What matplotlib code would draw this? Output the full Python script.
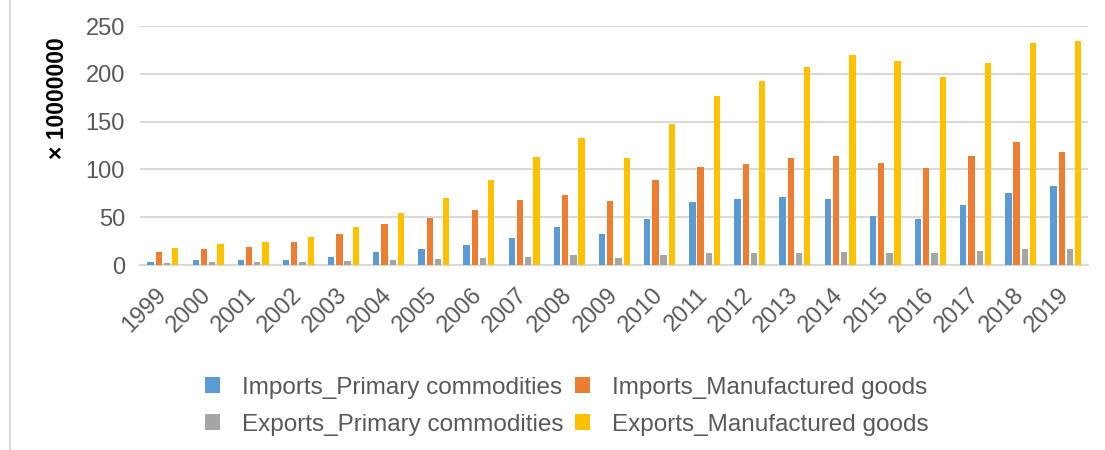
import matplotlib.pyplot as plt
import matplotlib.lines as mlines
import numpy as np

plt.rcParams['font.family'] = ['Liberation Sans', 'DejaVu Sans']

years = [str(y) for y in range(1999, 2020)]

imports_primary = [2.8, 5.2, 5.2, 5.6, 8.4, 13.2, 16.7, 20.9, 27.9, 39.7, 32.7,
                   48.7, 65.8, 68.9, 71.0, 69.6, 51.2, 48.0, 62.7, 75.9, 82.5]
imports_manuf = [13.2, 17.0, 18.8, 23.7, 32.7, 42.8, 49.4, 57.5, 67.9, 73.1, 67.2,
                 88.8, 102.7, 105.2, 112.5, 114.2, 106.5, 102.0, 114.2, 129.2, 118.4]
exports_primary = [2.0, 2.8, 2.8, 3.1, 4.2, 5.2, 6.3, 7.7, 8.4, 10.1, 7.7,
                   10.1, 12.2, 12.2, 12.9, 13.9, 12.5, 12.5, 14.3, 16.4, 16.4]
exports_manuf = [17.4, 22.0, 23.7, 29.2, 39.7, 54.3, 70.0, 89.5, 113.5, 133.0, 112.0,
                 147.3, 176.5, 192.2, 207.2, 219.7, 214.0, 196.4, 211.4, 231.9, 234.0]

series = [
    ('Imports_Primary commodities', imports_primary, '#5B9BD5'),
    ('Imports_Manufactured goods', imports_manuf, '#ED7D31'),
    ('Exports_Primary commodities', exports_primary, '#A5A5A5'),
    ('Exports_Manufactured goods', exports_manuf, '#FFC000'),
]

fig = plt.figure(figsize=(11.05, 4.5), dpi=100)
ax = fig.add_axes([0.127, 0.411, 0.858, 0.531])

x = np.arange(len(years))
step = 0.182
width = 0.14
for i, (name, vals, color) in enumerate(series):
    ax.bar(x + (i - 1.5) * step, vals, width, color=color, label=name, zorder=3)

ax.set_xlim(-0.5, len(years) - 0.5)
ax.set_ylim(0, 250)
ax.set_yticks(range(0, 251, 50))
ax.yaxis.grid(True, color='#D9D9D9', linewidth=1.5, zorder=0)
for s in ['top', 'right', 'left']:
    ax.spines[s].set_visible(False)
ax.spines['bottom'].set_color('#D9D9D9')
ax.spines['bottom'].set_linewidth(1.5)
ax.tick_params(axis='both', length=0, labelsize=17, labelcolor='#595959')
ax.tick_params(axis='y', pad=11)
ax.tick_params(axis='x', pad=19)
ax.set_xticks(x)
ax.set_xticklabels(years, rotation=45, ha='right', va='center', rotation_mode='anchor')
ax.set_ylabel('× 10000000', fontsize=16.5, fontweight='bold')
ax.yaxis.set_label_coords(-0.075, 0.70)

# legend filled row by row: imports on top, exports below
handles, labels = ax.get_legend_handles_labels()
order = [0, 2, 1, 3]
fig.legend([handles[k] for k in order], [labels[k] for k in order],
           loc='center', bbox_to_anchor=(0.513, 0.097), ncol=2,
           frameon=False, fontsize=17.5, labelcolor='#595959', handlelength=0.62,
           handleheight=0.62, columnspacing=0.5, handletextpad=0.9, labelspacing=0.62)

fig.add_artist(mlines.Line2D([0.009, 0.009], [0.0, 1.0], color='#D9D9D9', linewidth=1.5))

fig.savefig('out.png', dpi=100)
